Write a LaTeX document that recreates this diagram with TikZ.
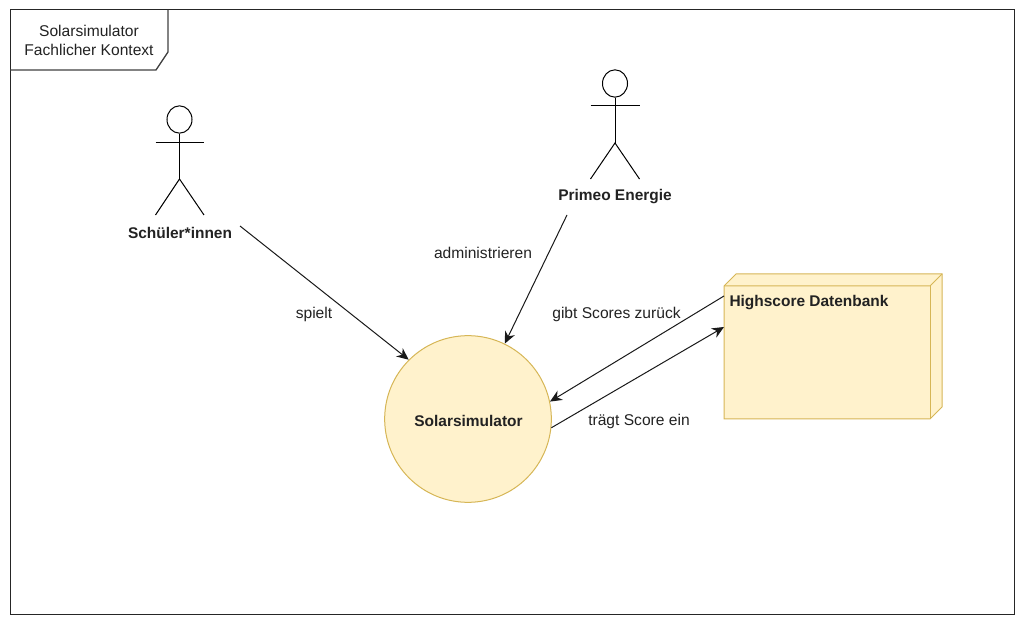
\documentclass[tikz,border=0pt]{standalone}
\usepackage{fontspec}
\setmainfont{Liberation Sans}
\usetikzlibrary{%
  arrows.meta,%
  positioning,%
  shapes.geometric%
}
\definecolor{dbfill}{HTML}{FFF2CC}
\definecolor{dbline}{HTML}{D6B656}
\definecolor{inktext}{HTML}{222222}

\begin{document}
\begin{tikzpicture}
[x=0.75pt, y=-0.75pt, line width=0.75pt, >={Stealth[length=9pt,width=8pt]},
txt/.style={inner sep=0pt, text=inktext, font=\fontsize{11.7pt}{14.25pt}\selectfont, align=center},
boldtxt/.style={txt, font=\fontsize{11.6pt}{14.25pt}\selectfont\bfseries},
actorhead/.style={ellipse, draw, inner sep=0pt, minimum width=18.75pt, minimum height=20.5pt},
solid3d/.style={draw=dbline, fill=dbfill},
flow/.style={->, draw=black!90}]

\useasboundingbox (0,0) rectangle (1025,623);

% frame with its tab
\node[rectangle, draw=black!85, inner sep=0pt, minimum width=753pt, minimum height=453pt] (frame) at (512,312) {};
\draw[draw=black!75, line width=1pt] (168,10) -- (168,52) -- (156,70) -- (10,70);
\node[txt] (title) at (89,40) {Solarsimulator\\Fachlicher Kontext};

% actors
\node[actorhead] (head1) at (179.5,119.5) {};
\coordinate (hip1) at (179.5,179);
\draw (head1.south) -- (hip1);
\draw (155.5,142.5) -- (204,142.5);
\draw (155.5,215) -- (hip1) -- (204,215);
\node[boldtxt] (pupils) at (180,233) {Schüler*innen};

\node[actorhead] (head2) at (615,83.5) {};
\coordinate (hip2) at (615,143);
\draw (head2.south) -- (hip2);
\draw (590.5,105.5) -- (639.5,105.5);
\draw (590.5,179) -- (hip2) -- (639.5,179);
\node[boldtxt] (primeo) at (615,197) {Primeo Energie};

% system
\node[circle, solid3d, inner sep=0pt, minimum size=125pt] (solar) at (468,419) {};
\node[boldtxt] (solarlabel) at (468.5,420.5) {Solarsimulator};

% database
\draw[solid3d, line join=miter] (724,286) -- (736,274) -- (942,274) -- (942,407) -- (930,419) -- (724,419) -- cycle;
\draw[draw=dbline] (724,286) -- (930,286) -- (942,274);
\draw[draw=dbline] (930,286) -- (930,419);
\node[boldtxt, anchor=west] (dblabel) at (729,302.5) {Highscore Datenbank};

% connector ends
\coordinate (pupilsout) at (240,226);
\coordinate (primeoout) at (567,215);
\coordinate (dbout) at (724,296);
\coordinate (dbin) at (724,327);

\draw[flow] (pupilsout) -- (solar.135);
\draw[flow] (primeoout) -- (solar.64);
\draw[flow] (dbout) -- (solar.12);
\draw[flow] (solar.-6) -- (dbin);

\node[txt] (plays) at (314,314.5) {spielt};
\node[txt] (admin) at (483,253) {administrieren};
\node[txt] (returns) at (616.5,314.5) {gibt Scores zurück};
\node[txt] (enters) at (639,421.5) {trägt Score ein};

\end{tikzpicture}
\end{document}
